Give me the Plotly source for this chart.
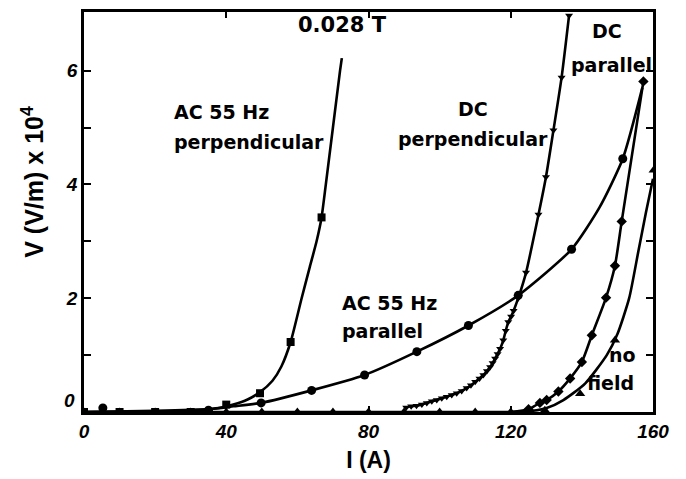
import plotly.graph_objects as go

# ---- measured points (current I in A, field V in 10^4 V/m) ----
ac_perp_I = [0, 10, 20, 30, 40, 49.5, 58.1, 66.8]
ac_perp_V = [0, 0, 0, 0, 0.13, 0.33, 1.23, 3.42]

ac_par_I = [5.3, 35, 49.8, 64.0, 78.9, 93.6, 108.1, 122.1, 137.1, 151.5]
ac_par_V = [0.07, 0.03, 0.16, 0.38, 0.65, 1.06, 1.52, 2.05, 2.86, 4.45]

dc_perp_I = [90.6, 92, 93.5, 95, 96.4, 97.8, 99.2, 100.6, 102, 103.4, 104.8,
             106.2, 107.6, 108.8, 110, 111.2, 112.3, 113.3, 114.2, 114.9,
             115.6, 116.3, 117, 117.9, 118.6, 119.3, 120.1, 120.8, 122.1,
             124.3, 127.8, 129.9, 132.0, 134.3, 136.4]
dc_perp_V = [0.08, 0.10, 0.11, 0.13, 0.16, 0.19, 0.21, 0.24, 0.27, 0.30, 0.33,
             0.37, 0.42, 0.47, 0.53, 0.59, 0.65, 0.72, 0.79, 0.86,
             0.94, 1.02, 1.11, 1.26, 1.43, 1.58, 1.68, 1.78, 2.00,
             2.45, 3.47, 4.13, 4.95, 5.88, 6.97]

dc_par_I = [125, 128.2, 130.1, 133.4, 136.7, 140, 142.8, 146.8, 149.3, 151.2, 157.3]
dc_par_V = [0.05, 0.16, 0.21, 0.36, 0.59, 0.88, 1.35, 2.01, 2.57, 3.35, 5.81]

nofield_I = [0, 10, 20, 30, 40, 50, 60, 70, 80, 90, 100, 110, 120, 129.6, 139.5, 149.3, 160.2]
nofield_V = [0, 0, 0, 0, 0, 0, 0, 0, 0, 0, 0, 0, 0, 0.03, 0.32, 1.26, 4.25]

# ---- fitted curves drawn through the data ----
ac_perp_fit_I = [0, 30, 38, 42, 46, 49.5, 53, 55.5, 58.1, 61.2, 63.5, 65.4, 66.8, 68, 70, 72, 72.5]
ac_perp_fit_V = [0, 0.02, 0.07, 0.13, 0.22, 0.35, 0.55, 0.8, 1.23, 2.0, 2.55, 3.0, 3.42, 4.0, 5.0, 6.0, 6.22]

ac_par_fit_I = [0, 20, 35, 42, 49.8, 64.0, 78.9, 93.6, 108.1, 122.1, 137.1, 145, 151.5, 157]
ac_par_fit_V = [0, 0.02, 0.05, 0.1, 0.16, 0.38, 0.65, 1.06, 1.52, 2.05, 2.86, 3.6, 4.45, 5.7]

dc_par_fit_I = [120] + dc_par_I
dc_par_fit_V = [0] + dc_par_V

nofield_fit_I = [0, 120, 126, 130.1, 134.8, 140.9, 147, 150, 153.3, 155.9, 158, 160]
nofield_fit_V = [0, 0, 0.02, 0.07, 0.21, 0.5, 1.0, 1.37, 2.0, 2.83, 3.5, 4.1]

x_ticks = [0, 40, 80, 120, 160]
y_ticks = [2, 4, 6]
y_minor = [1, 3, 5]

BLACK = "#000000"
line_style = dict(color=BLACK, width=2.6, shape="spline", smoothing=0.6)

fig = go.Figure()

# curves
for xs, ys in [(ac_perp_fit_I, ac_perp_fit_V), (ac_par_fit_I, ac_par_fit_V),
               (dc_perp_I, dc_perp_V), (dc_par_fit_I, dc_par_fit_V),
               (nofield_fit_I, nofield_fit_V)]:
    fig.add_trace(go.Scatter(x=xs, y=ys, mode="lines", line=line_style,
                             hoverinfo="skip", showlegend=False))

# markers
for xs, ys, sym, size in [(ac_perp_I, ac_perp_V, "square", 8),
                          (ac_par_I, ac_par_V, "circle", 9),
                          (dc_perp_I, dc_perp_V, "triangle-down", 7),
                          (dc_par_I, dc_par_V, "diamond", 8),
                          (nofield_I, nofield_V, "triangle-up", 9)]:
    fig.add_trace(go.Scatter(x=xs, y=ys, mode="markers",
                             marker=dict(symbol=sym, size=size, color=BLACK),
                             showlegend=False))

ann_font = dict(family="DejaVu Sans", size=19, color=BLACK, weight="bold")
labels = [
    ("0.028 T", 72.8, 6.80, "center", dict(ann_font, size=21)),
    ("AC 55 Hz", 24.7, 5.27, "left", ann_font),
    ("perpendicular", 24.7, 4.74, "left", ann_font),
    ("DC", 109.4, 5.32, "center", ann_font),
    ("perpendicular", 109.4, 4.80, "center", ann_font),
    ("DC", 147.1, 6.70, "center", ann_font),
    ("parallel", 148.2, 6.10, "center", ann_font),
    ("AC 55 Hz", 72.0, 1.92, "left", ann_font),
    ("parallel", 72.0, 1.43, "left", ann_font),
    ("no", 155.8, 1.00, "right", ann_font),
    ("field", 155.2, 0.51, "right", ann_font),
]
for text, x, y, anchor, font in labels:
    fig.add_annotation(text=text, x=x, y=y, xref="x", yref="y", xanchor=anchor,
                       yanchor="middle", showarrow=False, font=font)

tick_font = dict(family="Liberation Sans", size=19, color=BLACK,
                 weight="bold", style="italic")

# zero label sits a little above the corner
fig.add_annotation(text="0", x=-0.012, y=0.21, xref="paper", yref="y",
                   xanchor="right", yanchor="middle", showarrow=False,
                   font=tick_font)

# vertical axis title, set slightly above the axis centre
fig.add_annotation(text="V (V/m) x 10<sup>4</sup>", x=-0.09, y=0.575,
                   xref="paper", yref="paper", xanchor="center",
                   yanchor="middle", textangle=-90, showarrow=False,
                   font=dict(family="Liberation Sans", size=25, color=BLACK,
                             weight="bold"))

fig.update_layout(
    width=686, height=479,
    margin=dict(l=84, r=33, t=9, b=67),
    paper_bgcolor="white", plot_bgcolor="white",
    font=dict(family="Liberation Sans", color=BLACK),
    xaxis=dict(
        range=[0, 160], tickvals=x_ticks, ticks="inside", ticklen=6,
        tickwidth=1.5, tickcolor=BLACK, showline=True, linecolor=BLACK,
        linewidth=2.5, mirror="ticks", showgrid=False, zeroline=False,
        tickfont=tick_font,
        title=dict(text="I (A)", font=dict(size=23, weight="bold"), standoff=12),
    ),
    yaxis=dict(
        range=[0, 7.03], tickvals=y_ticks, ticks="inside", ticklen=7,
        tickwidth=1.5, tickcolor=BLACK, showline=True, linecolor=BLACK,
        linewidth=2.5, mirror="ticks", showgrid=False, zeroline=False,
        tickfont=tick_font,
        minor=dict(tickvals=y_minor, ticks="inside", ticklen=7,
                   tickwidth=1.5, tickcolor=BLACK, showgrid=False),
    ),
)

fig.write_html("out.html")
